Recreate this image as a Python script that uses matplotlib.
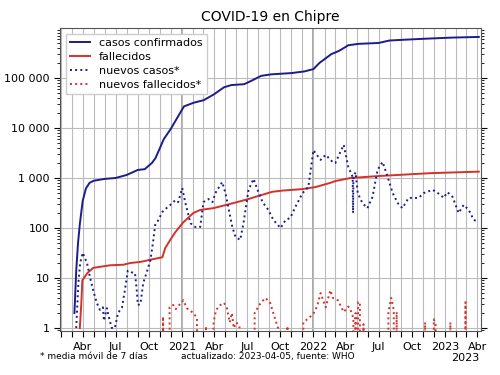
import pandas as pd
import matplotlib
matplotlib.use('Agg')
import matplotlib.pyplot as plt
import matplotlib.dates as mdates
import matplotlib.ticker as mticker

# cumulative confirmed cases
cases_dates = ['2020-03-09', '2020-03-14', '2020-03-19', '2020-03-24', '2020-04-01', '2020-04-10',
               '2020-04-20', '2020-05-01', '2020-06-01', '2020-07-01', '2020-08-01', '2020-09-01',
               '2020-09-20', '2020-10-10', '2020-10-20', '2020-11-12', '2020-12-01', '2020-12-29',
               '2021-01-07', '2021-02-03', '2021-03-03', '2021-03-31', '2021-04-28', '2021-05-18',
               '2021-06-23', '2021-07-12', '2021-08-09', '2021-09-06', '2021-11-01', '2021-12-07',
               '2022-01-01', '2022-01-18', '2022-02-20', '2022-03-14', '2022-04-08', '2022-05-06',
               '2022-07-01', '2022-07-31', '2022-10-20', '2023-01-20', '2023-04-05']
cases = [2, 14, 50, 120, 350, 620,
         800, 880, 960, 1000, 1150, 1450,
         1500, 2000, 2500, 6000, 9500, 21000,
         27000, 32000, 36000, 47000, 65000, 72000,
         75000, 87000, 110000, 118000, 125000, 135000,
         150000, 200000, 300000, 350000, 450000, 480000,
         500000, 560000, 600000, 640000, 660000]

# cumulative deaths
deaths_dates = ['2020-03-24', '2020-03-28', '2020-03-31', '2020-04-14', '2020-04-30', '2020-06-16',
                '2020-07-23', '2020-08-11', '2020-09-08', '2020-10-14', '2020-11-08', '2020-11-16',
                '2020-11-30', '2020-12-14', '2021-01-05', '2021-02-02', '2021-02-21', '2021-03-30',
                '2021-05-24', '2021-07-05', '2021-07-24', '2021-09-09', '2021-10-07', '2021-12-02',
                '2022-01-07', '2022-02-17', '2022-03-03', '2022-04-14', '2022-07-06', '2022-11-22',
                '2023-04-05']
deaths = [1, 3, 9, 12.6, 16, 18,
          18.5, 20, 21, 24, 26, 40,
          58, 83, 130, 200, 230, 250,
          315, 380, 420, 530, 560, 600,
          660, 800, 870, 1000, 1100, 1250,
          1340]

# new cases, 7-day average
new_cases_dates = ['2020-03-14', '2020-03-20', '2020-03-25', '2020-04-01', '2020-04-13', '2020-04-21',
                   '2020-04-30', '2020-05-10', '2020-05-19', '2020-05-27', '2020-05-30', '2020-06-07',
                   '2020-06-15', '2020-06-21', '2020-06-29', '2020-07-08', '2020-07-19', '2020-07-27',
                   '2020-08-04', '2020-08-15', '2020-08-24', '2020-08-29', '2020-09-01', '2020-09-08',
                   '2020-09-16', '2020-09-27', '2020-10-06', '2020-10-14', '2020-10-19', '2020-10-28',
                   '2020-11-08', '2020-11-22', '2020-11-30', '2020-12-14', '2020-12-22', '2021-01-02',
                   '2021-01-11', '2021-01-25', '2021-02-07', '2021-02-21', '2021-03-02', '2021-03-16',
                   '2021-03-27', '2021-04-04', '2021-04-23', '2021-05-02', '2021-05-10', '2021-05-21',
                   '2021-05-30', '2021-06-12', '2021-06-21', '2021-07-05', '2021-07-19', '2021-07-30',
                   '2021-08-13', '2021-08-29', '2021-09-12', '2021-10-02', '2021-10-16', '2021-10-29',
                   '2021-11-12', '2021-12-02', '2021-12-18', '2022-01-01', '2022-01-21', '2022-02-04',
                   '2022-02-26', '2022-03-03', '2022-03-26', '2022-04-08', '2022-04-20', '2022-04-21',
                   '2022-04-22', '2022-04-28', '2022-05-04', '2022-05-17', '2022-05-31', '2022-06-14',
                   '2022-06-28', '2022-07-12', '2022-07-26', '2022-08-09', '2022-08-23', '2022-09-05',
                   '2022-09-22', '2022-10-20', '2022-11-03', '2022-11-28', '2022-12-20', '2022-12-28',
                   '2023-01-08', '2023-01-22', '2023-02-08', '2023-02-22', '2023-03-08', '2023-03-22',
                   '2023-04-02']
new_cases = [1, 8, 20, 32, 20, 10.5,
             5.7, 3.2, 2.3, 2.6, 1.4, 2.5,
             1.4, 1, 1, 2, 2.6, 5.7,
             14, 13, 12.6, 5.7, 2.9, 3,
             8, 14, 23, 58, 115, 145,
             210, 260, 290, 360, 330, 630,
             315, 125, 105, 105, 330, 380,
             330, 500, 830, 500, 260, 105,
             66, 58, 125, 580, 960, 580,
             330, 230, 145, 100, 145, 160,
             265, 500, 660, 3600, 2300, 2900,
             2000, 2000, 4600, 1650, 1050, 200,
             1050, 1300, 500, 315, 250, 420,
             1450, 2100, 1050, 500, 315, 250,
             400, 400, 500, 580, 460, 400,
             520, 420, 200, 290, 230, 145,
             135]

# new deaths, 7-day average (0 drops below the axis)
new_deaths_dates = ['2020-11-05', '2020-11-10', '2020-11-14', '2020-11-24', '2020-11-28', '2020-12-08',
                    '2020-12-15', '2021-01-05', '2021-01-15', '2021-02-02', '2021-02-12', '2021-02-21',
                    '2021-03-05', '2021-03-09', '2021-03-13', '2021-03-25', '2021-03-30', '2021-04-06',
                    '2021-04-18', '2021-04-28', '2021-05-06', '2021-05-14', '2021-05-20', '2021-05-25',
                    '2021-06-01', '2021-06-10', '2021-06-14', '2021-07-15', '2021-07-22', '2021-08-03',
                    '2021-08-08', '2021-08-21', '2021-09-03', '2021-09-16', '2021-09-25', '2021-09-28',
                    '2021-10-18', '2021-10-21', '2021-10-24', '2021-11-28', '2021-12-04', '2021-12-20',
                    '2022-01-02', '2022-01-11', '2022-01-21', '2022-02-04', '2022-02-17', '2022-02-24',
                    '2022-03-10', '2022-03-26', '2022-04-08', '2022-04-14', '2022-04-22', '2022-04-25',
                    '2022-04-28', '2022-05-02', '2022-05-05', '2022-05-10', '2022-05-12', '2022-05-20',
                    '2022-05-23', '2022-07-20', '2022-07-28', '2022-08-05', '2022-08-12', '2022-08-16',
                    '2022-08-20', '2022-08-26', '2022-11-04', '2022-11-07', '2022-11-12', '2022-11-28',
                    '2022-12-01', '2022-12-06', '2022-12-10', '2023-01-12', '2023-01-16', '2023-01-20',
                    '2023-02-22', '2023-02-27', '2023-03-05']
new_deaths = [0, 1.7, 0, 0, 2.6, 2.9,
              2.4, 3.6, 2.5, 2, 1.6, 0,
              0, 1.1, 0, 0, 1.3, 2.3,
              2.9, 3.2, 2.5, 1.3, 2, 1,
              1.3, 1.1, 0, 0, 2, 2.8,
              3.2, 4, 3.2, 1.6, 1, 0,
              0, 1.1, 0, 0, 1.3, 1.6,
              2, 2.7, 5, 2.6, 5.7, 4,
              3.6, 2.1, 2.7, 2.3, 1.6, 0,
              2, 0, 3.3, 3.3, 0, 1.2,
              0, 0, 2.1, 4, 2.3, 0,
              2.1, 0, 0, 1.3, 0, 0,
              1.5, 1.2, 0, 0, 1.3, 0,
              0, 3.3, 0]

xtick_dates = ['2020-04-01', '2020-07-01', '2020-10-01', '2021-01-01', '2021-04-01', '2021-07-01',
               '2021-10-01', '2022-01-01', '2022-04-01', '2022-07-01', '2022-10-01', '2023-01-01',
               '2023-04-01']
xtick_labels = ['Abr', 'Jul', 'Oct', '2021', 'Abr', 'Jul', 'Oct', '2022', 'Abr', 'Jul', 'Oct', '2023', 'Abr']
ytick_values = [1, 10, 100, 1000, 10000, 100000]

blue = '#1c1c8a'
red = '#d3322b'

fig = plt.figure(figsize=(5, 3.75), dpi=100)
ax = fig.add_axes([0.12, 0.117, 0.842, 0.808])

ax.plot(pd.to_datetime(cases_dates), cases, color=blue, lw=1.4, label='casos confirmados')
ax.plot(pd.to_datetime(deaths_dates), deaths, color=red, lw=1.4, label='fallecidos')
ax.plot(pd.to_datetime(new_cases_dates), new_cases, color=blue, lw=1.4, ls=':', label='nuevos casos*')
ax.plot(pd.to_datetime(new_deaths_dates), new_deaths, color=red, lw=1.4, ls=':', label='nuevos fallecidos*')

ax.set_yscale('log', nonpositive='clip')
ax.set_ylim(0.87, 0.99e6)
ax.set_xlim(pd.Timestamp('2020-01-29'), pd.Timestamp('2023-04-11'))

ax.set_yticks(ytick_values)
ax.set_yticklabels([f'{v:,}'.replace(',', ' ') for v in ytick_values])
ax.yaxis.set_minor_locator(mticker.LogLocator(base=10, subs=range(2, 10)))
ax.yaxis.set_minor_formatter(mticker.NullFormatter())

ax.set_xticks(pd.to_datetime(xtick_dates))
ax.set_xticklabels(xtick_labels)
ax.xaxis.set_minor_locator(mdates.MonthLocator())
ax.xaxis.set_minor_formatter(mticker.NullFormatter())

ax.tick_params(axis='both', which='major', labelsize=8, length=4, width=0.8, colors='black')
ax.tick_params(axis='x', which='minor', length=4, width=0.8)
ax.tick_params(axis='y', which='minor', length=2, width=0.6)
ax.tick_params(axis='y', which='both', right=True)

ax.grid(True, axis='x', which='both', color='#bbbbbb', lw=0.8)
ax.grid(True, axis='y', which='major', color='#bbbbbb', lw=0.8)
ax.set_axisbelow(True)
for yr in ['2021-01-01', '2022-01-01']:
    ax.axvline(pd.Timestamp(yr), color='#999999', lw=1.2, zorder=0.5)

for s in ax.spines.values():
    s.set_color('#555555')

ax.set_title('COVID-19 en Chipre', fontsize=10, pad=5)
ax.legend(loc='upper left', fontsize=8, framealpha=1, edgecolor='#cccccc',
          borderpad=0.4, labelspacing=0.35, handlelength=1.8, fancybox=False)

fig.text(0.08, 0.042, '* media móvil de 7 días', fontsize=6.5)
fig.text(0.362, 0.042, 'actualizado: 2023-04-05, fuente: WHO', fontsize=6.5)
fig.text(0.958, 0.037, '2023', fontsize=8, ha='right')

fig.savefig('out.png', dpi=100)
